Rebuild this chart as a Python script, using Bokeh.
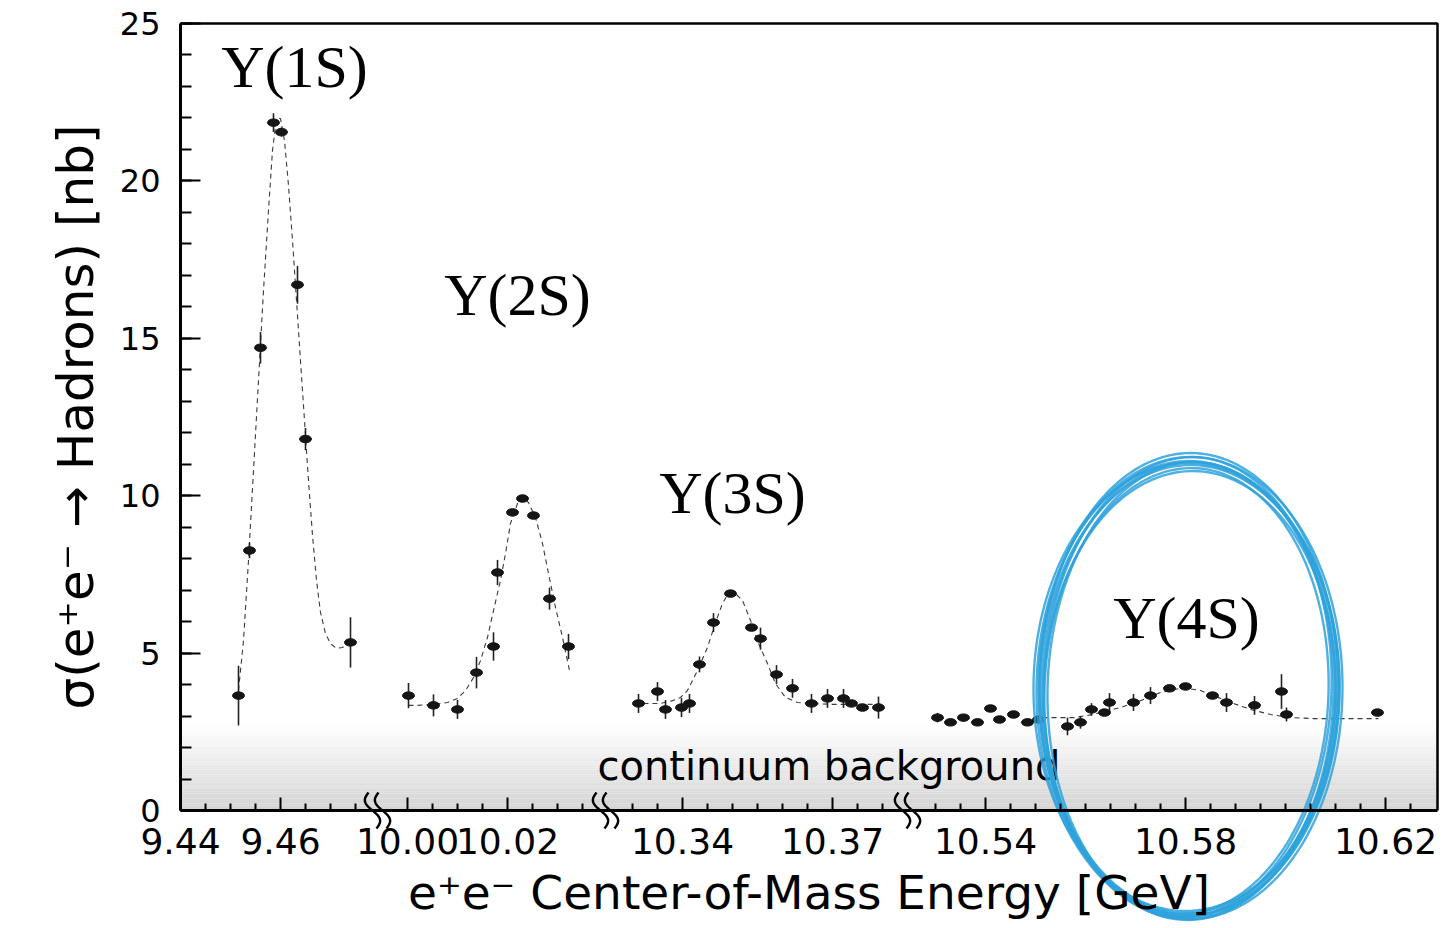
import numpy as np
from bokeh.plotting import figure
from bokeh.models import (Range1d, FixedTicker, SingleIntervalTicker,
                          CustomJSTickFormatter)
from bokeh.core.properties import value
from bokeh.embed import file_html
from bokeh.resources import INLINE

# ---- broken energy axis: four windows (GeV) -------------------------------
SEG_START = [9.440, 9.994, 10.3246, 10.5244]
SEG_END = [9.4794, 10.0396, 10.3850, 10.6304]
U_PER_GEV = 5000.0

MAJOR_E = [9.44, 9.46, 10.00, 10.02, 10.34, 10.37, 10.54, 10.58, 10.62]
MAJOR_LABELS = ["9.44", "9.46", "10.00", "10.02", "10.34", "10.37", "10.54", "10.58", "10.62"]
MINOR_E = [9.445, 9.450, 9.455, 9.465, 9.470, 9.475,
           10.005, 10.010, 10.015, 10.025, 10.030, 10.035,
           10.330, 10.335, 10.345, 10.350, 10.355, 10.360, 10.365, 10.375, 10.380,
           10.530, 10.535, 10.545, 10.550, 10.555, 10.560, 10.565, 10.570, 10.575,
           10.585, 10.590, 10.595, 10.600, 10.605, 10.610, 10.615, 10.625]

# ---- Upsilon(1S) scan ------------------------------------------------------
E_1S = [9.4516, 9.4538, 9.4560, 9.4586, 9.4602, 9.4634, 9.4650, 9.4740]
SIG_1S = [3.65, 8.26, 14.70, 21.85, 21.55, 16.70, 11.80, 5.34]
ERR_1S = [0.95, 0.25, 0.50, 0.30, 0.15, 0.60, 0.35, 0.80]
FIT_E_1S = [9.4516, 9.4526, 9.4536, 9.4546, 9.4556, 9.4566, 9.4576, 9.4584, 9.4592,
            9.4600, 9.4608, 9.4616, 9.4624, 9.4632, 9.4640, 9.4648, 9.4656, 9.4664,
            9.4672, 9.4680, 9.4690, 9.4700, 9.4712, 9.4724, 9.4740]
FIT_S_1S = [3.81, 5.40, 7.94, 10.80, 13.66, 16.52, 19.06, 20.97, 21.98,
            21.98, 21.28, 19.85, 18.11, 16.20, 14.29, 12.39, 10.48, 8.74,
            7.31, 6.29, 5.62, 5.30, 5.15, 5.18, 5.34]

# ---- Upsilon(2S) scan ------------------------------------------------------
E_2S = [10.0002, 10.0052, 10.0100, 10.0138, 10.0172, 10.0180, 10.0210, 10.0230,
        10.0252, 10.0284, 10.0322]
SIG_2S = [3.65, 3.34, 3.21, 4.38, 5.21, 7.56, 9.47, 9.91, 9.37, 6.73, 5.21]
ERR_2S = [0.40, 0.35, 0.30, 0.50, 0.45, 0.40, 0.10, 0.10, 0.10, 0.35, 0.40]
FIT_E_2S = [10.0002, 10.0020, 10.0052, 10.0080, 10.0100, 10.0116, 10.0132, 10.0146,
            10.0160, 10.0172, 10.0186, 10.0196, 10.0206, 10.0220, 10.0232, 10.0242,
            10.0256, 10.0270, 10.0282, 10.0296, 10.0310, 10.0324]
FIT_S_2S = [3.34, 3.34, 3.37, 3.43, 3.56, 3.81, 4.22, 4.76, 5.50, 6.35, 7.31, 8.16,
            9.12, 9.75, 9.97, 9.78, 9.31, 8.48, 7.53, 6.45, 5.50, 4.45]

# ---- Upsilon(3S) scan ------------------------------------------------------
E_3S = [10.3312, 10.3350, 10.3366, 10.3398, 10.3414, 10.3434, 10.3462, 10.3496,
        10.3538, 10.3556, 10.3588, 10.3620, 10.3658, 10.3690, 10.3722, 10.3738,
        10.3760, 10.3792]
SIG_3S = [3.40, 3.78, 3.21, 3.27, 3.40, 4.64, 5.97, 6.89, 5.81, 5.46, 4.32, 3.88,
          3.40, 3.56, 3.56, 3.40, 3.27, 3.27]
ERR_3S = [0.30, 0.30, 0.30, 0.30, 0.30, 0.25, 0.30, 0.08, 0.08, 0.35, 0.30, 0.30,
          0.30, 0.30, 0.30, 0.10, 0.08, 0.35]
FIT_E_3S = [10.3322, 10.3356, 10.3380, 10.3396, 10.3410, 10.3430, 10.3450, 10.3466,
            10.3480, 10.3492, 10.3506, 10.3520, 10.3536, 10.3552, 10.3570, 10.3586,
            10.3606, 10.3630, 10.3656, 10.3702, 10.3742, 10.3796]
FIT_S_3S = [3.40, 3.40, 3.49, 3.59, 3.81, 4.45, 5.18, 5.97, 6.58, 6.89, 6.89, 6.67,
            6.04, 5.31, 4.67, 4.03, 3.59, 3.43, 3.40, 3.37, 3.37, 3.37]

# ---- Upsilon(4S) scan ------------------------------------------------------
E_4S = [10.5304, 10.5330, 10.5356, 10.5384, 10.5410, 10.5428, 10.5456, 10.5484,
        10.5506, 10.5564, 10.5590, 10.5612, 10.5638, 10.5648, 10.5696, 10.5730,
        10.5768, 10.5800, 10.5854, 10.5882, 10.5938, 10.5992, 10.6002, 10.6184]
SIG_4S = [2.95, 2.80, 2.95, 2.80, 3.24, 2.89, 3.05, 2.80, 2.89, 2.67, 2.80, 3.21,
          3.11, 3.43, 3.43, 3.65, 3.88, 3.94, 3.65, 3.43, 3.34, 3.78, 3.05, 3.11]
ERR_4S = [0.15, 0.05, 0.05, 0.05, 0.05, 0.05, 0.05, 0.05, 0.10, 0.28, 0.20, 0.20,
          0.05, 0.30, 0.27, 0.27, 0.05, 0.05, 0.05, 0.30, 0.30, 0.55, 0.22, 0.05]
FIT_E_4S = [10.5496, 10.5576, 10.5604, 10.5630, 10.5670, 10.5710, 10.5750, 10.5796,
            10.5830, 10.5856, 10.5896, 10.5930, 10.5970, 10.6010, 10.6056, 10.6124,
            10.6186]
FIT_S_4S = [2.95, 2.95, 3.02, 3.11, 3.27, 3.49, 3.75, 3.90, 3.81, 3.65, 3.40, 3.21,
            3.05, 2.95, 2.92, 2.92, 2.92]

CONTINUUM_TOP = 2.75  # nb, upper edge of the shaded continuum band
Y_MAX = 25.0


def segment_offsets():
    offs = [0.0]
    for s, e in zip(SEG_START[:-1], SEG_END[:-1]):
        offs.append(offs[-1] + (e - s) * U_PER_GEV)
    return offs


SEG_U0 = segment_offsets()
U_MAX = SEG_U0[-1] + (SEG_END[-1] - SEG_START[-1]) * U_PER_GEV
BREAKS_U = SEG_U0[1:]


def to_u(energies):
    """Map energies (GeV) onto the continuous coordinate of the broken axis."""
    out = []
    for E in energies:
        for s, e, u0 in zip(SEG_START, SEG_END, SEG_U0):
            if s - 1e-9 <= E <= e + 1e-9:
                out.append(u0 + (E - s) * U_PER_GEV)
                break
        else:
            raise ValueError(E)
    return out


# The drawing area spans the whole canvas; the axes sit at fixed locations
# so that the highlight ring and break marks can extend below the energy axis.
W, H = 1445, 928
PAD_LEFT, PAD_RIGHT, PAD_TOP, PAD_BOTTOM = 180, 8, 23, 118
PX_PER_U = (W - PAD_LEFT - PAD_RIGHT) / U_MAX
PX_PER_NB = (H - PAD_TOP - PAD_BOTTOM) / Y_MAX

x_rng = Range1d(-PAD_LEFT / PX_PER_U, U_MAX + PAD_RIGHT / PX_PER_U)
y_rng = Range1d(-PAD_BOTTOM / PX_PER_NB, Y_MAX + PAD_TOP / PX_PER_NB)

p = figure(width=W, height=H, x_range=x_rng, y_range=y_rng,
           output_backend="svg", toolbar_location=None,
           min_border_left=0, min_border_right=0, min_border_top=0, min_border_bottom=0)
p.background_fill_color = "white"
p.border_fill_color = "white"
p.outline_line_color = None
p.xgrid.visible = False
p.ygrid.visible = False

SANS = "DejaVu Sans"

# continuum band: vertical grey fade
n_band = 36
edges = np.linspace(0, CONTINUUM_TOP, n_band + 1)
cols = []
for i in range(n_band):
    f = (i + 0.5) / n_band
    g = int(round(211 + (255 - 211) * f))
    cols.append("#%02x%02x%02x" % (g, g, g))
p.quad(left=[0] * n_band, right=[U_MAX] * n_band, bottom=edges[:-1], top=edges[1:],
       fill_color=cols, line_color=None)

# top and right edges of the plotting box
p.line(x=[0, U_MAX, U_MAX], y=[Y_MAX, Y_MAX, 0], line_color="black", line_width=2.5)

p.text(x=[417], y=[1.42], text=["continuum background"],
       text_font=value(SANS), text_font_size="40px", text_color="black",
       text_align="left", text_baseline="alphabetic")

# scans: fit curves, error bars and measurements
scans = [
    (E_1S, SIG_1S, ERR_1S, FIT_E_1S, FIT_S_1S),
    (E_2S, SIG_2S, ERR_2S, FIT_E_2S, FIT_S_2S),
    (E_3S, SIG_3S, ERR_3S, FIT_E_3S, FIT_S_3S),
    (E_4S, SIG_4S, ERR_4S, FIT_E_4S, FIT_S_4S),
]
for E, S, ERR, FE, FS in scans:
    p.line(to_u(FE), FS, line_color="#3a3a3a", line_width=1.1, line_dash="5 4")
    u = to_u(E)
    lo = [s - e for s, e in zip(S, ERR)]
    hi = [s + e for s, e in zip(S, ERR)]
    p.segment(x0=u, y0=lo, x1=u, y1=hi, line_color="#222222", line_width=1.6)
    p.ellipse(x=u, y=S, width=12, height=7.5, width_units="screen", height_units="screen",
              fill_color="#151515", line_color="#151515")

# resonance names
res_u = [114, 337, 552, 1006]
res_y = [23.63, 16.36, 10.07, 6.10]
res_txt = ["Υ(1S)", "Υ(2S)", "Υ(3S)", "Υ(4S)"]
p.text(x=res_u, y=res_y, text=res_txt, text_font=value("Liberation Serif"),
       text_font_size="60px", text_color="black",
       text_align="center", text_baseline="middle")

# ---- axes -------------------------------------------------------------------
MAJOR_U = to_u(MAJOR_E)
MINOR_U = to_u(MINOR_E)
xa = p.xaxis[0]
xa.fixed_location = 0
xa.bounds = (0, U_MAX)
xa.ticker = FixedTicker(ticks=MAJOR_U, minor_ticks=MINOR_U)
xa.formatter = CustomJSTickFormatter(
    args=dict(tick_pos=MAJOR_U, tick_text=MAJOR_LABELS), code="""
    for (let i = 0; i < tick_pos.length; i++) {
        if (Math.abs(tick - tick_pos[i]) < 0.01) return tick_text[i];
    }
    return "";
""")
xa.axis_label = "e⁺e⁻ Center-of-Mass Energy [GeV]"
xa.axis_label_text_font = SANS
xa.axis_label_text_font_size = "47px"
xa.axis_label_text_font_style = "normal"
xa.axis_label_text_color = "black"
xa.axis_label_standoff = 8
xa.major_label_text_font = SANS
xa.major_label_text_font_size = "36px"
xa.major_label_text_color = "black"
xa.major_label_standoff = 17
xa.major_tick_in = 13
xa.major_tick_out = 0
xa.minor_tick_in = 7
xa.minor_tick_out = 0
xa.major_tick_line_width = 2
xa.minor_tick_line_width = 2
xa.axis_line_width = 3

ya = p.yaxis[0]
ya.fixed_location = 0
ya.bounds = (0, Y_MAX)
ya.ticker = SingleIntervalTicker(interval=5, num_minor_ticks=5)
ya.axis_label = "σ(e⁺e⁻ → Hadrons) [nb]"
ya.axis_label_text_font = SANS
ya.axis_label_text_font_size = "50px"
ya.axis_label_text_font_style = "normal"
ya.axis_label_text_color = "black"
ya.axis_label_standoff = 12
ya.major_label_text_font = SANS
ya.major_label_text_font_size = "32px"
ya.major_label_text_color = "black"
ya.major_label_standoff = 20
ya.major_tick_in = 20
ya.major_tick_out = 0
ya.minor_tick_in = 11
ya.minor_tick_out = 0
ya.major_tick_line_width = 2
ya.minor_tick_line_width = 2
ya.axis_line_width = 3

# ---- axis-break marks (two wavy strokes across the energy axis) -------------
t = np.linspace(0, 1, 40)
dx = -5.5 * np.sin(2 * np.pi * t) + 8.0 * (t - 0.5)   # pixels
dy = -18.0 + 36.0 * t                                 # pixels, downward
for ub in BREAKS_U:
    for off in (-5.0, 5.0):
        cx = ub + (off + dx) / PX_PER_U
        cy = -dy / PX_PER_NB
        p.line(x=cx, y=cy, line_color="black", line_width=2.4)

# ---- highlight ring around the Upsilon(4S) region ---------------------------
ring_cx, ring_cy = 1008.0, 3.86          # plot units, nb
ring_a, ring_b = 147.0, 227.0            # pixels
strokes = [(0, 0, 0, 0, -0.020), (3, -2, 1, -1, -0.008), (-3, 3, -1, 2, -0.032),
           (5, 4, 2, 1, -0.004), (-5, -4, -2, -2, -0.036), (2, 6, 0, 3, -0.015),
           (-1, -6, 1, -3, -0.026), (4, 1, -1, 0, -0.012), (-4, 2, 2, -2, -0.022),
           (6, -3, -2, 2, -0.010)]
th = np.linspace(0, 2 * np.pi, 200)
for da, db, ox, oy, rot in strokes:
    ex = (ring_a + da) * np.cos(th)
    ey = (ring_b + db) * np.sin(th)
    rx = ex * np.cos(rot) - ey * np.sin(rot) + ox
    ry = ex * np.sin(rot) + ey * np.cos(rot) + oy
    p.line(x=ring_cx + rx / PX_PER_U, y=ring_cy + ry / PX_PER_NB,
           line_color="#2fa2dc", line_width=2.4, line_alpha=0.85)

open("out.html", "w").write(file_html(p, INLINE))
